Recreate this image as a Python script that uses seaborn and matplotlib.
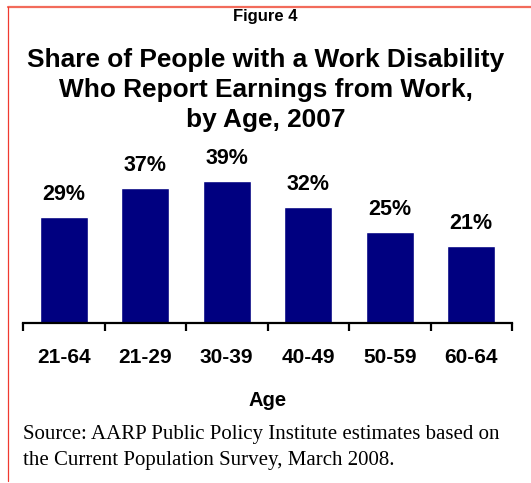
import matplotlib
matplotlib.use("Agg")
import matplotlib.pyplot as plt
from matplotlib.lines import Line2D
import seaborn as sns
import pandas as pd

ages = ["21-64", "21-29", "30-39", "40-49", "50-59", "60-64"]
shares = [29, 37, 39, 32, 25, 21]

title_small = "Figure 4"
title_main = "Share of People with a Work Disability\nWho Report Earnings from Work,\nby Age, 2007"
x_label = "Age"
source_note = ("Source: AARP Public Policy Institute estimates based on\n"
               "the Current Population Survey, March 2008.")

sns.set_theme(style="white")
plt.rcParams["font.family"] = ["Liberation Sans", "DejaVu Sans"]
plt.rcParams["text.color"] = "black"
plt.rcParams["xtick.color"] = "black"

W, H, DPI = 531, 483, 100
fig = plt.figure(figsize=(W / DPI, H / DPI), dpi=DPI)

# axes box: spine from x=23 to x=512 px, baseline at y=322.7 px
left, right = 23 / W, 512 / W
bottom = (H - 322.7) / H
ymax = 45
px_per_unit = 3.63
ax_h = ymax * px_per_unit / H
ax = fig.add_axes([left, bottom, right - left, ax_h])

df = pd.DataFrame({"age": ages, "share": shares})
sns.barplot(data=df, x="age", y="share", color="#000080", saturation=1,
            width=0.59, ax=ax)

ax.set_xlim(-0.5, len(ages) - 0.5)
ax.set_ylim(0, ymax)
ax.set_yticks([])
ax.set_ylabel("")
ax.set_xlabel("")
for s in ["left", "right", "top"]:
    ax.spines[s].set_visible(False)
ax.spines["bottom"].set_color("black")
ax.spines["bottom"].set_linewidth(1.6)

# ticks sit at category boundaries, labels at centres
ax.set_xticks([i - 0.5 for i in range(len(ages) + 1)], minor=True)
ax.tick_params(axis="x", which="minor", direction="out", length=5.5,
               width=1.6, color="black", bottom=True)
ax.set_xticks(range(len(ages)))
ax.set_xticklabels(ages, fontsize=15, fontweight="bold", color="black")
ax.tick_params(axis="x", which="major", length=0, pad=18)

for i, v in enumerate(shares):
    ax.annotate(f"{v}%", (i, v), xytext=(0, 17), textcoords="offset pixels",
                ha="center", va="baseline", fontsize=15.5, fontweight="bold",
                color="black")

fig.text(0.5, 1 - 16.5 / H, title_small, ha="center", va="center",
         fontsize=12, fontweight="bold", color="black")
fig.text(0.5, 1 - 90 / H, title_main, ha="center", va="center",
         fontsize=18.9, fontweight="bold", linespacing=1.3, color="black")
fig.text(0.5 + 2 / W, 1 - 400 / H, x_label, ha="center", va="center",
         fontsize=14.5, fontweight="bold", color="black")
fig.text(23 / W, 1 - 447.5 / H, source_note, ha="left", va="center",
         fontsize=15, family=["Liberation Serif", "DejaVu Serif"],
         linespacing=1.55, color="black")

# frame lines along the top and left edge
fig.add_artist(Line2D([8 / W, 1], [1 - 7 / H, 1 - 7 / H], transform=fig.transFigure,
                      color="#f26b5b", linewidth=1.6))
fig.add_artist(Line2D([8 / W, 8 / W], [1 - 7 / H, 2 / H], transform=fig.transFigure,
                      color="#f03a30", linewidth=0.9))

fig.savefig("out.png", dpi=DPI)
